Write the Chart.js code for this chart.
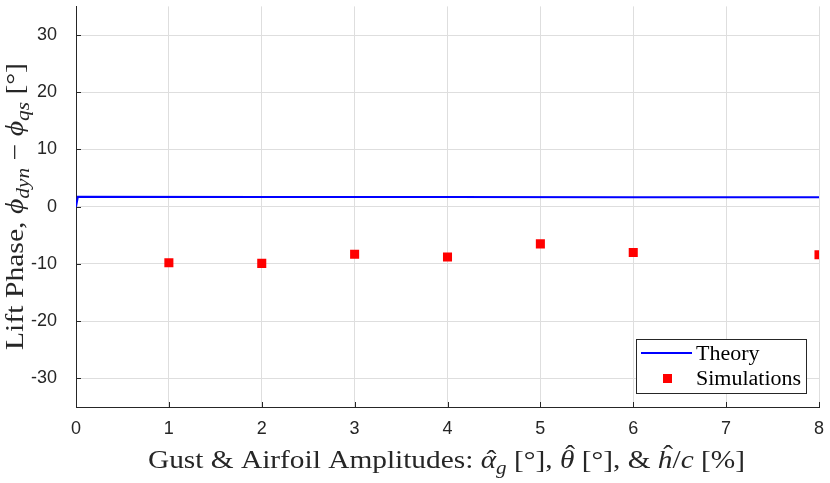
<!DOCTYPE html>
<html>
<head>
<meta charset="utf-8">
<script src="https://cdn.jsdelivr.net/npm/chart.js@4/dist/chart.umd.min.js"></script>
<style>
  html, body { margin: 0; padding: 0; background: #fff; }
  canvas { display: block; }
</style>
</head>
<body>
<canvas id="phase-chart" width="830" height="483"></canvas>
<script>
// theory curve (amplitude, phase difference in degrees)
const theoryAmp = [0, 0.02, 2, 4, 6, 8];
const theoryPhase = [0, 1.72, 1.7, 1.68, 1.66, 1.64];

// simulation results
const simAmp = [1, 2, 3, 4, 5, 6, 8];
const simPhase = [-9.8, -9.9, -8.3, -8.8, -6.5, -8.0, -8.4];

const xTicks = [0, 1, 2, 3, 4, 5, 6, 7, 8];
const yTicks = [-30, -20, -10, 0, 10, 20, 30];

const serif = '"Liberation Serif", "Times New Roman", serif';
const sans = '"Liberation Sans", Arial, sans-serif';

// rich text pieces for axis titles: i = italic, sub = subscript, hat = 1 (short glyph) / 2 (tall glyph)
const xTitle = [
  { t: 'Gust & Airfoil Amplitudes: ' },
  { t: 'α', i: 1, hat: 1 }, { t: 'g', i: 1, sub: 1 },
  { t: ' [°], ' },
  { t: 'θ', i: 1, hat: 2 },
  { t: ' [°], & ' },
  { t: 'h', i: 1, hat: 2 }, { t: '/' }, { t: 'c', i: 1 },
  { t: ' [%]' }
];
const yTitle = [
  { t: 'Lift Phase, ' },
  { t: 'ϕ', i: 1 }, { t: 'dyn', i: 1, sub: 1 },
  { t: ' − ' },
  { t: 'ϕ', i: 1 }, { t: 'qs', i: 1, sub: 1 },
  { t: ' [°]' }
];

function pieceFont(p, size) {
  const s = p.sub ? Math.round(size * 0.7) : size;
  return (p.i ? 'italic ' : '') + s + 'px ' + serif;
}

// draws the pieces centred on cx, stretched to the given width
function drawRich(ctx, parts, cx, cy, size, width) {
  let total = 0;
  parts.forEach(p => { ctx.font = pieceFont(p, size); total += ctx.measureText(p.t).width; });
  ctx.save();
  ctx.translate(cx - width / 2, cy);
  ctx.scale(width / total, 1);
  ctx.textBaseline = 'alphabetic';
  ctx.textAlign = 'left';
  let x = 0;
  parts.forEach(p => {
    ctx.font = pieceFont(p, size);
    const w = ctx.measureText(p.t).width;
    ctx.fillText(p.t, x, p.sub ? size * 0.22 : 0);
    if (p.hat) {
      ctx.save();
      ctx.textAlign = 'center';
      ctx.font = size + 'px ' + serif;
      ctx.fillText('ˆ', x + w / 2 + size * 0.1, p.hat === 2 ? -size * 0.2 : 0);
      ctx.restore();
    }
    x += w;
  });
  ctx.restore();
}

const extras = {
  id: 'extras',
  beforeDatasetsDraw(chart) {
    // inward tick marks
    const { ctx, chartArea: a, scales: { x, y } } = chart;
    ctx.save();
    ctx.strokeStyle = '#262626';
    ctx.lineWidth = 1;
    ctx.beginPath();
    xTicks.forEach(v => {
      const px = Math.round(x.getPixelForValue(v)) + 0.5;
      ctx.moveTo(px, a.bottom); ctx.lineTo(px, a.bottom - 5);
    });
    yTicks.forEach(v => {
      const py = Math.round(y.getPixelForValue(v)) + 0.5;
      ctx.moveTo(a.left, py); ctx.lineTo(a.left + 5, py);
    });
    ctx.stroke();
    ctx.restore();
  },
  afterDraw(chart) {
    const { ctx } = chart;
    ctx.save();
    ctx.fillStyle = '#262626';
    drawRich(ctx, xTitle, 446.5, 468, 25, 597);
    ctx.translate(23, 206.5);
    ctx.rotate(-Math.PI / 2);
    drawRich(ctx, yTitle, 0, 0, 25, 287);
    ctx.restore();

    // legend box
    const ds = chart.data.datasets;
    const bx = 636, by = 339, bw = 170, bh = 54;
    ctx.save();
    ctx.fillStyle = '#fff';
    ctx.fillRect(bx, by, bw, bh);
    ctx.strokeStyle = '#262626';
    ctx.lineWidth = 1;
    ctx.strokeRect(bx + 0.5, by + 0.5, bw, bh);
    ctx.strokeStyle = ds[0].borderColor;
    ctx.lineWidth = 2;
    ctx.beginPath();
    ctx.moveTo(641, 353); ctx.lineTo(692, 353);
    ctx.stroke();
    ctx.fillStyle = ds[1].backgroundColor;
    ctx.fillRect(663, 374, 9, 9);
    ctx.fillStyle = '#000';
    ctx.font = '20px ' + serif;
    ctx.textBaseline = 'alphabetic';
    ctx.save();
    ctx.translate(696, 0);
    ctx.scale(1.1, 1);
    ctx.fillText(ds[0].label, 0, 360);
    ctx.fillText(ds[1].label, 0, 385);
    ctx.restore();
    ctx.restore();
  }
};

new Chart(document.getElementById('phase-chart'), {
  type: 'scatter',
  data: {
    datasets: [
      {
        label: 'Theory',
        type: 'line',
        data: theoryAmp.map((v, i) => ({ x: v, y: theoryPhase[i] })),
        borderColor: '#0000ff',
        borderWidth: 2,
        pointRadius: 0,
        fill: false,
        tension: 0
      },
      {
        label: 'Simulations',
        data: simAmp.map((v, i) => ({ x: v, y: simPhase[i] })),
        backgroundColor: '#ff0000',
        borderWidth: 0,
        pointStyle: 'rect',
        pointRadius: 6.4
      }
    ]
  },
  plugins: [extras],
  options: {
    responsive: false,
    animation: false,
    devicePixelRatio: 1,
    layout: { padding: { top: 5, right: 11, left: 0, bottom: 0 } },
    plugins: {
      legend: { display: false },
      tooltip: { enabled: false }
    },
    scales: {
      x: {
        type: 'linear',
        min: 0,
        max: 8,
        afterFit: s => { s.height = 76; s.paddingLeft = 0; s.paddingRight = 0; },
        afterBuildTicks: s => { s.ticks = xTicks.map(v => ({ value: v })); },
        border: { display: true, color: '#262626', width: 1 },
        grid: { color: '#dedede', drawTicks: false },
        ticks: { color: '#262626', padding: 11, autoSkip: false, maxRotation: 0, font: { family: sans, size: 18 } }
      },
      y: {
        min: -35,
        max: 35,
        afterFit: s => { s.width = 76; s.paddingTop = 0; s.paddingBottom = 0; },
        afterBuildTicks: s => { s.ticks = yTicks.map(v => ({ value: v })); },
        border: { display: true, color: '#262626', width: 1 },
        grid: { color: '#dedede', drawTicks: false },
        ticks: { color: '#262626', padding: 19, autoSkip: false, font: { family: sans, size: 18 } }
      }
    }
  }
});
</script>
</body>
</html>
